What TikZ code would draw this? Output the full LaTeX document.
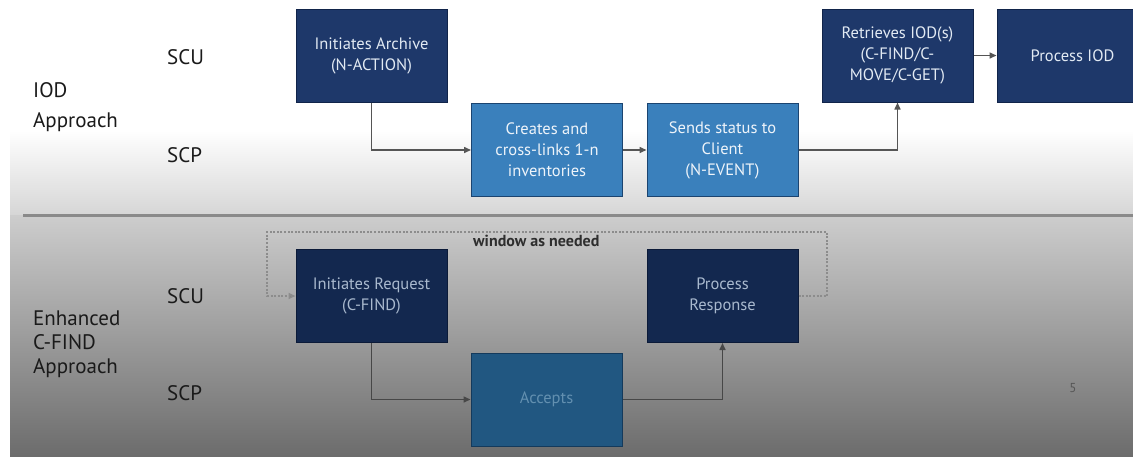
\documentclass[tikz,border=0pt]{standalone}
\usepackage{fontspec}
\setmainfont{PT Sans}
\usetikzlibrary{arrows.meta}
\definecolor{navytop}{HTML}{1E386A}
\definecolor{navytopedge}{HTML}{11244A}
\definecolor{navytxt}{HTML}{E2EAF3}
\definecolor{bluebox}{HTML}{3A80BC}
\definecolor{blueedge}{HTML}{1B4470}
\definecolor{bluetxt}{HTML}{EEF4FA}
\definecolor{navylow}{HTML}{13284F}
\definecolor{navylowedge}{HTML}{0B1A38}
\definecolor{navylowtxt}{HTML}{A9B9CE}
\definecolor{accbox}{HTML}{215781}
\definecolor{accedge}{HTML}{143A5C}
\definecolor{acctxt}{HTML}{6390B0}
\definecolor{bgtopbot}{HTML}{D6D6D6}
\definecolor{bglowtop}{HTML}{CDCDCD}
\definecolor{bglowbot}{HTML}{6C6C6C}
\definecolor{sepcol}{HTML}{8A8A8A}
\definecolor{arrcol}{HTML}{555555}
\definecolor{arrcollow}{HTML}{474747}
\definecolor{dotcol}{HTML}{8C8C8C}
\definecolor{labcol}{HTML}{1A1A1A}
\definecolor{wincol}{HTML}{2E2E2E}
\definecolor{numcol}{HTML}{555555}
\tikzset{
  boxbase/.style={rectangle, minimum width=151pt, minimum height=93pt, inner sep=0pt,
    align=center, line width=1pt, font=\fontsize{16.5}{21}\selectfont},
  darktop/.style={boxbase, fill=navytop, draw=navytopedge, text=navytxt},
  bluetop/.style={boxbase, fill=bluebox, draw=blueedge, text=bluetxt},
  darklow/.style={boxbase, fill=navylow, draw=navylowedge, text=navylowtxt},
  acclow/.style={boxbase, fill=accbox, draw=accedge, text=acctxt},
  lab/.style={anchor=base west, inner sep=0pt, text=labcol, font=\fontsize{21}{25}\selectfont},
  arr/.style={draw=arrcol, line width=1.5pt, -{Triangle[length=7pt,width=6pt]}},
  arrlow/.style={draw=arrcollow, line width=1.5pt, -{Triangle[length=7pt,width=6pt]}},
  dotline/.style={draw=dotcol, line width=2pt, dash pattern=on 2pt off 1.6pt, -{Triangle[length=7pt,width=6pt,fill=arrcollow]}}
}
\begin{document}
\begin{tikzpicture}[x=1pt,y=-1pt]
\useasboundingbox (0,0) rectangle (1133,456);
\clip (0,0) rectangle (1133,456);
% background
\fill[white] (0,0) rectangle (1133,456);
\shade[top color=white, bottom color=bgtopbot] (10,130) rectangle (1133,215);
\shade[top color=bglowtop, bottom color=bglowbot] (10,215) rectangle (1133,456);
\draw[sepcol, line width=3pt] (23,215) -- (1133,215);

% left labels
\node[lab] (iod1) at (33,97) {IOD};
\node[lab] (iod2) at (33,127) {Approach};
\node[lab] (scu1) at (167,64) {SCU};
\node[lab] (scp1) at (167,162) {SCP};
\node[lab] (enh1) at (33,325) {Enhanced};
\node[lab] (enh2) at (33,349) {C-FIND};
\node[lab] (enh3) at (33,373) {Approach};
\node[lab] (scu2) at (167,303) {SCU};
\node[lab] (scp2) at (167,400) {SCP};

% IOD approach boxes
\node[darktop] (ia) at (371.5,55.5) {Initiates Archive\\(N-ACTION)};
\node[bluetop] (cr) at (547,150) {Creates and\\cross-links 1-n\\inventories};
\node[bluetop] (ss) at (722.5,150) {Sends status to\\Client\\(N-EVENT)};
\node[darktop] (ri) at (897.5,55.5) {Retrieves IOD(s)\\(C-FIND/C-\\MOVE/C-GET)};
\node[darktop] (pi) at (1072.5,55.5) {Process IOD};

\draw[arr] (ia.south) |- (cr.west);
\draw[arr] (cr.east) -- (ss.west);
\draw[arr] (ss.east) -| (ri.south);
\draw[arr] (ri.east) -- (pi.west);

% Enhanced C-FIND boxes
\node[darklow] (ir) at (371.5,296) {Initiates Request\\(C-FIND)};
\node[acclow] (ac) at (546.5,399.5) {Accepts};
\node[darklow] (pr) at (722.5,296) {Process\\Response};

\draw[arrlow] (ir.south) |- (ac.west);
\draw[arrlow] (ac.east) -| (pr.south);

\coordinate (loopR) at (827,232);
\coordinate (loopL) at (267,232);
\draw[dotline] (pr.east) -| (loopR) -- (loopL) |- (ir.west);
\node[anchor=base west, inner sep=0pt, text=wincol, font=\fontsize{16}{19}\selectfont\bfseries] (win) at (473,246) {window as needed};

\node[text=numcol, font=\fontsize{13}{15}\selectfont] (pg) at (1073,388) {5};
\end{tikzpicture}
\end{document}
